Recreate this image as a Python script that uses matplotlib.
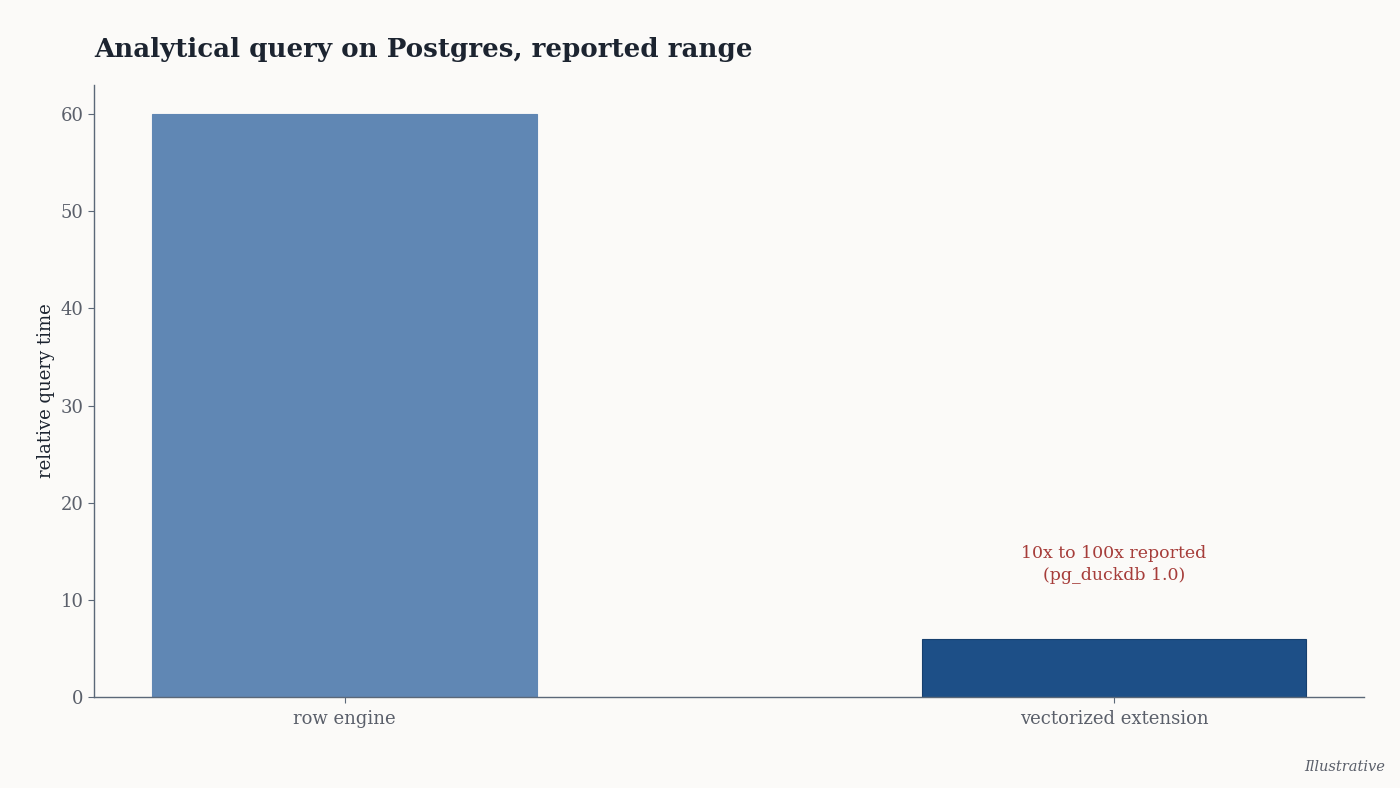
import matplotlib.pyplot as plt

engines = ["row engine", "vectorized extension"]
query_time = [60, 6]
note = "10x to 100x reported\n(pg_duckdb 1.0)"
note_y = 11.6

bg = "#fbfaf8"
plt.rcParams["font.family"] = ["DejaVu Serif"]

fig = plt.figure(figsize=(14, 7.88), dpi=100, facecolor=bg)
ax = fig.add_axes([94 / 1400, 1 - 697 / 788, 1270 / 1400, 612 / 788])
ax.set_facecolor(bg)

x = range(len(engines))
ax.bar(x, query_time, width=0.5, color=["#6087b4", "#1d4f87"],
       edgecolor=["#6087b4", "#163f6e"], linewidth=0.8)

ax.text(1, note_y, note, ha="center", va="bottom", fontsize=12.5,
        color="#a63d3a", linespacing=1.4)

ax.set_xlim(-0.326, 1.325)
ax.set_ylim(0, 63)
ax.set_xticks(list(x))
ax.set_xticklabels(engines)
ax.set_yticks(range(0, 61, 10))
ax.set_ylabel("relative query time", fontsize=13, color="#1c2430")

for side in ["top", "right"]:
    ax.spines[side].set_visible(False)
for side in ["left", "bottom"]:
    ax.spines[side].set_color("#5b6878")
    ax.spines[side].set_linewidth(1)
ax.tick_params(axis="both", colors="#5b6878", labelcolor="#5a5f6a",
               labelsize=13, length=4)
ax.tick_params(axis="x", pad=5)

fig.text(94 / 1400, 1 - 50 / 788, "Analytical query on Postgres, reported range",
         fontsize=18.8, fontweight="bold", color="#1c2430", va="center")
fig.text(1385 / 1400, 1 - 767 / 788, "Illustrative", fontsize=10.5,
         style="italic", color="#5a5f6a", ha="right", va="center")

fig.savefig("out.png", dpi=100, facecolor=bg)
